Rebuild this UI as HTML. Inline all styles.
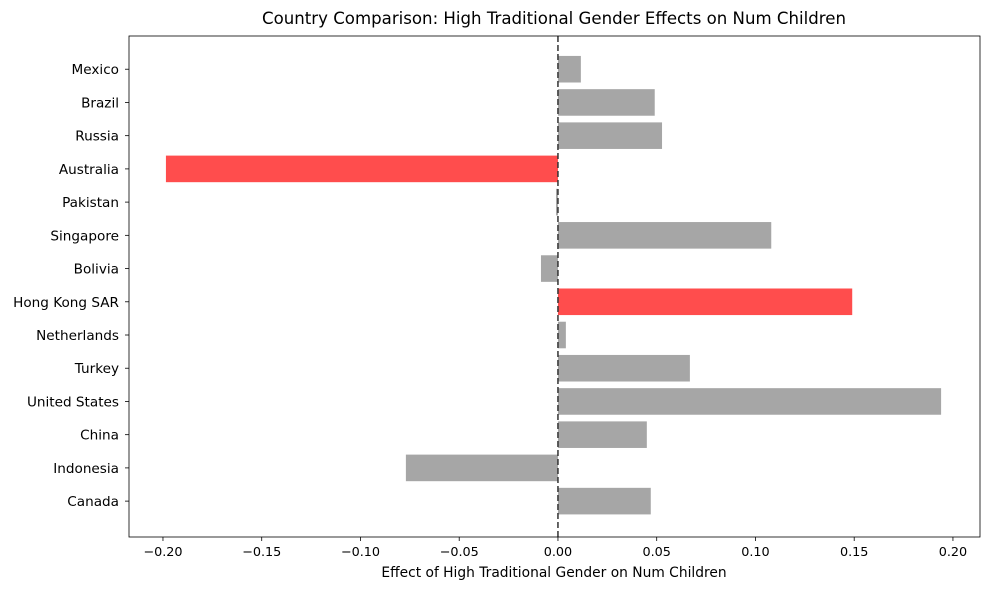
<!DOCTYPE html>
<html><head><meta charset="utf-8"><style>
body{margin:0;background:#fff;font-family:"Liberation Sans","DejaVu Sans",sans-serif;}
svg text{font-family:"DejaVu Sans","Liberation Sans",sans-serif;}
</style></head><body>
<svg id="chart" width="989" height="590" xmlns="http://www.w3.org/2000/svg">
<rect width="989" height="590" fill="#fff"/>
<text x="554" y="24" text-anchor="middle" font-size="16.6">Country Comparison: High Traditional Gender Effects on Num Children</text>
<text x="554" y="577" text-anchor="middle" font-size="13.8">Effect of High Traditional Gender on Num Children</text>
<g id="plot"></g>
</svg>
<script>
const categories=["Canada","Indonesia","China","United States","Turkey","Netherlands","Hong Kong SAR","Bolivia","Singapore","Pakistan","Australia","Russia","Brazil","Mexico"];
const values=[0.047,-0.077,0.045,0.194,0.0668,0.004,0.149,-0.0086,0.108,-0.001,-0.1985,0.0527,0.049,0.0116];
const highlighted=["Hong Kong SAR","Australia"];
const xTicks=[-0.20,-0.15,-0.10,-0.05,0.00,0.05,0.10,0.15,0.20];
const L=129,R=980,T=36,B=537;
const x0=-0.2172,x1=0.2137,y0=-1.08,y1=14.0;
const xs=v=>L+(v-x0)/(x1-x0)*(R-L);
const ys=i=>B-(i-y0)/(y1-y0)*(B-T);
const ns="http://www.w3.org/2000/svg";
const g=document.getElementById('plot');
function mk(t,a){const e=document.createElementNS(ns,t);for(const k in a)e.setAttribute(k,a[k]);g.appendChild(e);return e;}
const bw=(ys(0)-ys(0.8));
categories.forEach((c,i)=>{
  const v=values[i];
  const r=mk('rect',{x:Math.min(xs(0),xs(v)),y:ys(i)-bw/2,width:Math.abs(xs(v)-xs(0)),height:bw,fill:highlighted.includes(c)?'#ff4d4d':'#a6a6a6'});
  
  
  const tk=mk('line',{x1:L-4,x2:L,y1:ys(i),y2:ys(i),stroke:'#000','stroke-width':0.8});
  
  
  const t=mk('text',{x:L-10,y:ys(i)+5,'text-anchor':'end','font-size':13.6});
  t.textContent=c;
  
  
});
xTicks.forEach(v=>{
  const tk=mk('line',{x1:xs(v),x2:xs(v),y1:B,y2:B+4,stroke:'#000','stroke-width':0.8});
  
  
  const t=mk('text',{x:xs(v),y:B+19,'text-anchor':'middle','font-size':12.8});
  t.textContent=(v<0?'\u2212':'')+Math.abs(v).toFixed(2);
  
  
});
const zl=mk('line',{x1:xs(0),x2:xs(0),y1:T,y2:B,stroke:'#333','stroke-width':1.5,'stroke-dasharray':'6,3'});


const fr=mk('rect',{x:L,y:T,width:R-L,height:B-T,fill:'none',stroke:'#000','stroke-width':0.8});


</script>
</body></html>
